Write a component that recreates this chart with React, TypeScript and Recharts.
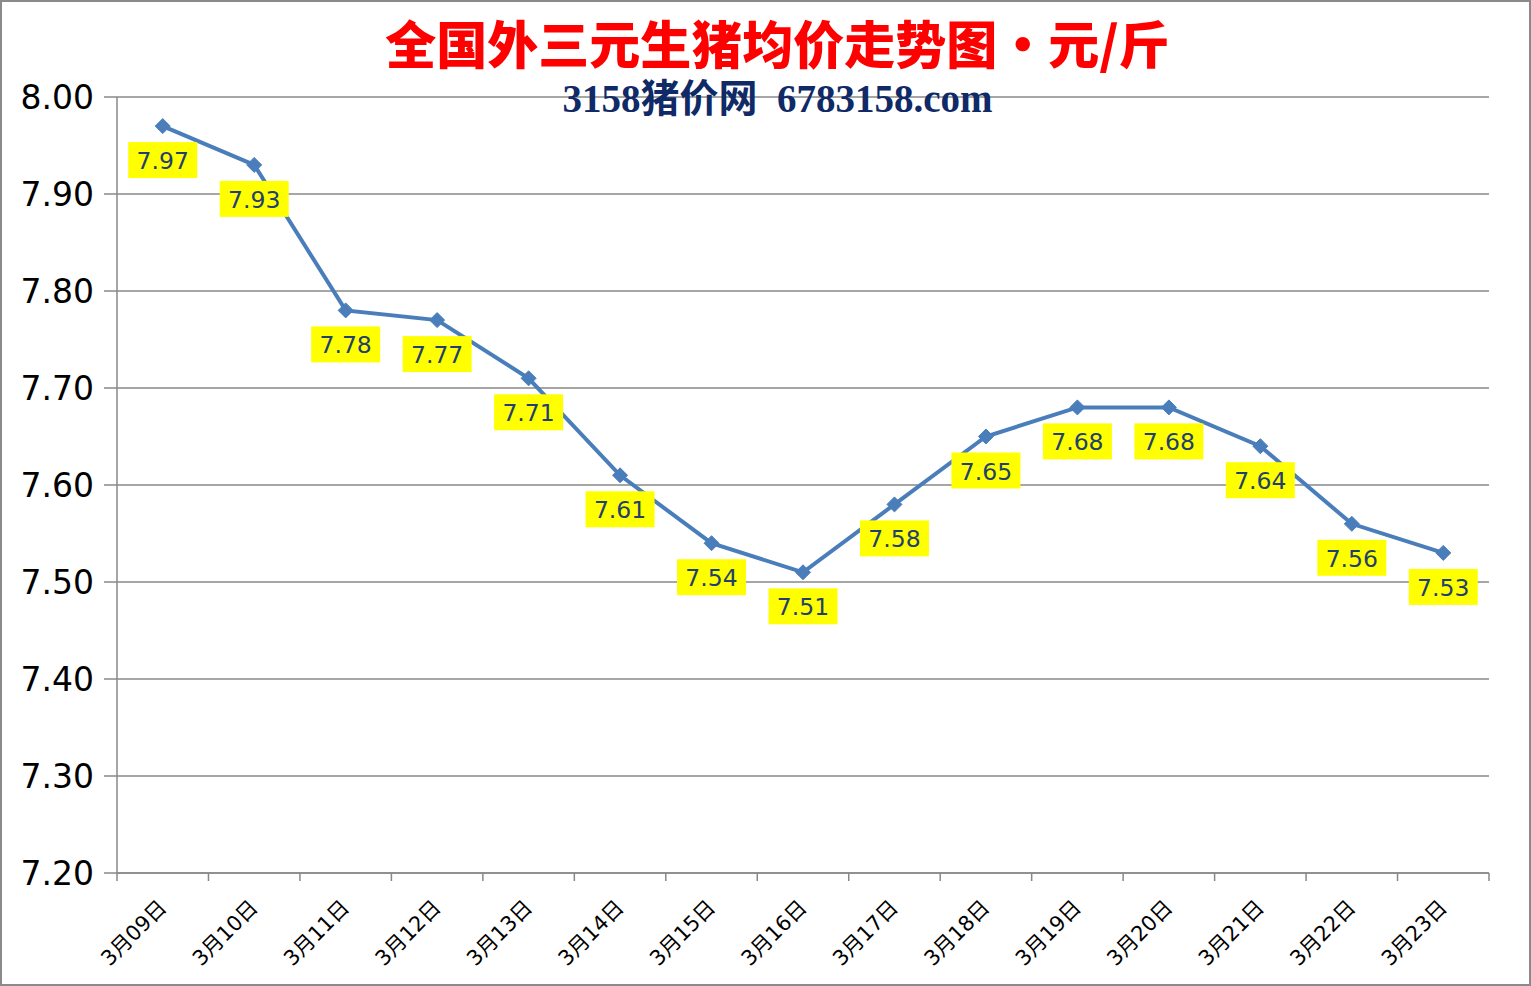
import React from "react";
import { LineChart, Line, XAxis, YAxis, CartesianGrid, LabelList } from "recharts";

const categories = ["3月09日", "3月10日", "3月11日", "3月12日", "3月13日", "3月14日", "3月15日", "3月16日", "3月17日", "3月18日", "3月19日", "3月20日", "3月21日", "3月22日", "3月23日"];
const prices = [7.97, 7.93, 7.78, 7.77, 7.71, 7.61, 7.54, 7.51, 7.58, 7.65, 7.68, 7.68, 7.64, 7.56, 7.53];
const yTicks = [7.2, 7.3, 7.4, 7.5, 7.6, 7.7, 7.8, 7.9, 8.0];
const title = "全国外三元生猪均价走势图・元/斤";
const subtitle = "3158猪价网  6783158.com";

const data = categories.map((c, i) => ({ name: c, x: i + 0.5, price: prices[i] }));
const boundaryTicks = categories.map((_, i) => i).concat([categories.length]);

const W = 1531;
const H = 986;
const MARGIN = { top: 97, right: 42, bottom: 5, left: 0 };
const Y_AXIS_W = 117;
const PLOT_W = W - MARGIN.left - MARGIN.right - Y_AXIS_W;
const HALF_BAND = PLOT_W / categories.length / 2;

const Diamond = (props: any) => {
  const { cx, cy } = props;
  if (cx == null || cy == null) return null;
  const r = 7.5;
  return (
    <polygon
      points={`${cx},${cy - r} ${cx + r},${cy} ${cx},${cy + r} ${cx - r},${cy}`}
      fill="#4A7EBB"
      stroke="#4A7EBB"
    />
  );
};

const PriceLabel = (props: any) => {
  const { x, y, value } = props;
  const w = 69;
  const h = 36;
  const top = y + 16;
  return (
    <g>
      <rect x={x - w / 2} y={top} width={w} height={h} fill="#FFFF00" />
      <text
        x={x}
        y={top + 27}
        textAnchor="middle"
        fontFamily="DejaVu Sans"
        fontSize={23.5}
        fill="#22406F"
      >
        {Number(value).toFixed(2)}
      </text>
    </g>
  );
};

const CatTick = (props: any) => {
  const { x, y, payload } = props;
  const idx = Math.round(payload.value);
  const label = categories[idx];
  if (!label) return <g />;
  return (
    <g transform={`translate(${x + HALF_BAND + 5},${y + 26})`}>
      <text
        x={0}
        y={0}
        textAnchor="end"
        transform="rotate(-45)"
        fontFamily="DejaVu Sans, 'Noto Sans CJK SC'"
        fontSize={21}
        fill="#000"
      >
        {label}
      </text>
    </g>
  );
};

export default function App() {
  return (
    <div
      style={{
        position: "fixed",
        left: 0,
        top: 0,
        width: W,
        height: H,
        background: "#fff",
        boxSizing: "border-box",
        border: "2px solid #8a8a8a",
        overflow: "hidden",
      }}
    >
      <div style={{ position: "absolute", left: -2, top: -2 }}>
        <LineChart width={W} height={H} data={data} margin={MARGIN}>
          <CartesianGrid vertical={false} stroke="#888" strokeWidth={1.5} />
          <XAxis
            type="number"
            dataKey="x"
            domain={[0, categories.length]}
            ticks={boundaryTicks}
            interval={0}
            height={108}
            tick={<CatTick />}
            tickSize={8}
            tickLine={{ stroke: "#888", strokeWidth: 1.5 }}
            axisLine={{ stroke: "#888", strokeWidth: 1.5 }}
          />
          <YAxis
            type="number"
            domain={[7.2, 8.0]}
            ticks={yTicks}
            width={Y_AXIS_W}
            tickSize={13}
            tickMargin={10}
            tickFormatter={(v: number) => v.toFixed(2)}
            tick={{ fontFamily: "DejaVu Sans", fontSize: 33, fill: "#000" }}
            tickLine={{ stroke: "#888", strokeWidth: 1.5 }}
            axisLine={{ stroke: "#888", strokeWidth: 1.5 }}
            interval={0}
          />
          <Line
            type="linear"
            dataKey="price"
            stroke="#4A7EBB"
            strokeWidth={4}
            dot={<Diamond />}
            activeDot={false}
            isAnimationActive={false}
          >
            <LabelList dataKey="price" content={<PriceLabel />} />
          </Line>
        </LineChart>
      </div>
      <div
        style={{
          position: "absolute",
          left: 0,
          top: 10,
          width: W,
          height: 60,
          textAlign: "center",
          fontFamily: "'Noto Sans CJK SC'",
          fontWeight: 900,
          fontSize: 51,
          lineHeight: "60px",
          color: "#FF0000",
          paddingLeft: 20,
          boxSizing: "border-box",
          whiteSpace: "nowrap",
        }}
      >
        {title}
      </div>
      <div
        style={{
          position: "absolute",
          left: 0,
          top: 76,
          width: W,
          height: 42,
          textAlign: "center",
          fontFamily: "'Liberation Serif', 'Noto Sans CJK SC'",
          fontWeight: 700,
          fontSize: 39,
          lineHeight: "42px",
          color: "#0F2A66",
          whiteSpace: "pre",
          paddingLeft: 20,
          boxSizing: "border-box",
        }}
      >
        {subtitle}
      </div>
    </div>
  );
}
